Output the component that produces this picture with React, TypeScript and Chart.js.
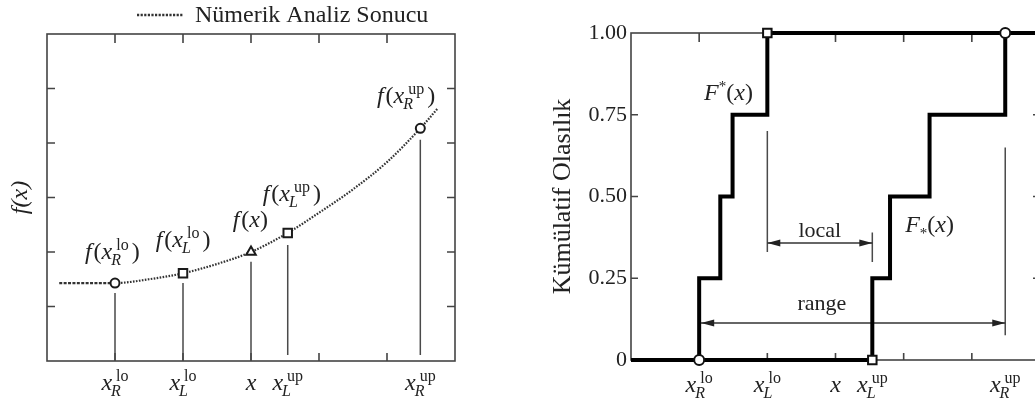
import React, { useEffect, useRef } from 'react';
import { Chart, registerables } from 'chart.js';

Chart.register(...registerables);

const SERIF = '"Liberation Serif", "Times New Roman", serif';
const INK = '#222';

// ---------- Left panel: numerical analysis result ----------
const curveX = [0.18, 0.5, 1, 1.5, 2, 2.5, 3, 3.54, 4, 4.5, 5, 5.49, 5.75];
const curveY = [1.43, 1.43, 1.43, 1.5, 1.61, 1.78, 2.0, 2.35, 2.72, 3.15, 3.65, 4.27, 4.64];
const pointX = [1, 2, 3, 3.54, 5.49];
const pointY = [1.43, 1.61, 2.0, 2.35, 4.27];
const pointShapes = ['circle', 'rect', 'triangle', 'rect', 'circle'];
const dropTop = [1.25, 1.43, 1.82, 2.13, 4.06];
const dropBottom = [0, 0, 0, 0.11, 0.11];
const tickSub = ['R', 'L', '', 'L', 'R'];
const tickSup = ['lo', 'lo', '', 'up', 'up'];
const fLabelX = [0.96, 2.0, 2.99, 3.6, 5.28];
const fLabelY = [1.87, 2.09, 2.46, 2.94, 4.73];
const leftTicks = [1, 2, 3, 4, 5];
const legendLabel = 'Nümerik Analiz Sonucu';
const leftYTitle = 'f(x)';

// ---------- Right panel: cumulative probability ----------
const upperX = [0, 1, 1.31, 1.49, 2, 6];
const lowerX = [0, 3.54, 3.8, 4.38, 5.49, 6];
const stepY = [0, 0.25, 0.5, 0.75, 1, 1];
const probLabels = ['0', '0.25', '0.50', '0.75', '1.00'];
const rightXTicks = [1, 2, 3, 4, 5];
const rightYTicks = [0.25, 0.5, 0.75];
const endX = [1, 3.54, 2, 5.49];
const endY = [0, 0, 1, 1];
const endShapes = ['circle', 'rect', 'rect', 'circle'];
const localX = [2, 3.54];
const localY = 0.358;
const localBarTop = [0.7, 0.39];
const localBarBottom = [0.33, 0.3];
const rangeX = [1, 5.49];
const rangeY = 0.113;
const rangeBarTop = 0.65;
const rangeBarBottom = 0.076;
const textLabels = ['local', 'range'];
const textLabelX = [2.77, 2.8];
const textLabelY = [0.376, 0.153];
const fStarX = [1.43, 4.38];
const fStarY = [0.795, 0.391];
const rightYTitle = 'Kümülatif Olasılık';

type Piece = { t: string; it?: boolean; s: number; dy?: number; dx?: number; adv?: number };

const fnt = (s: number, it?: boolean) => `${it ? 'italic ' : ''}${s}px ${SERIF}`;

function measure(ctx: CanvasRenderingContext2D, p: Piece) {
  ctx.font = fnt(p.s, p.it);
  return ctx.measureText(p.t).width;
}

function drawPieces(ctx: CanvasRenderingContext2D, pieces: Piece[], cx: number, by: number) {
  const adv = pieces.map((p) => (p.adv !== undefined ? p.adv : measure(ctx, p)));
  const total = adv.reduce((a, b) => a + b, 0);
  let x = cx - total / 2;
  ctx.save();
  ctx.fillStyle = INK;
  ctx.textAlign = 'left';
  ctx.textBaseline = 'alphabetic';
  pieces.forEach((p, i) => {
    ctx.font = fnt(p.s, p.it);
    ctx.fillText(p.t, x + (p.dx || 0), by + (p.dy || 0));
    x += adv[i];
  });
  ctx.restore();
}

function xSymbol(ctx: CanvasRenderingContext2D, sub: string, sup: string, wrapF: boolean): Piece[] {
  const out: Piece[] = [];
  const scripted = !!(sub || sup);
  if (wrapF) {
    out.push({ t: 'f', it: true, s: 24, adv: measure(ctx, { t: 'f', it: true, s: 24 }) + 2 });
    out.push({ t: '(', s: 24 });
  }
  out.push({ t: 'x', it: true, s: 24 });
  if (scripted) {
    const subP: Piece = { t: sub, it: true, s: 16, dy: 6, dx: -1 };
    const supP: Piece = { t: sup, s: 16, dy: -9, dx: 4 };
    const w = Math.max(sub ? measure(ctx, subP) - 1 : 0, sup ? measure(ctx, supP) + 4 : 0);
    out.push({ ...subP, adv: 0 });
    out.push({ ...supP, adv: w });
  }
  if (wrapF) {
    const gap = scripted ? 3 : 0;
    out.push({ t: ')', s: 24, dx: gap, adv: measure(ctx, { t: ')', s: 24 }) + gap });
  }
  return out;
}

function drawArrowHead(ctx: CanvasRenderingContext2D, tipX: number, y: number, dir: number) {
  ctx.beginPath();
  ctx.moveTo(tipX, y);
  ctx.lineTo(tipX - dir * 13, y - 3.5);
  ctx.lineTo(tipX - dir * 13, y + 3.5);
  ctx.closePath();
  ctx.fill();
}

const leftDecor = {
  id: 'leftDecor',
  beforeDatasetsDraw(chart: any) {
    const { ctx, chartArea: a, scales } = chart;
    const x = scales.x;
    const y = scales.y;
    ctx.save();
    ctx.strokeStyle = '#444';
    ctx.lineWidth = 1.6;
    ctx.strokeRect(a.left, a.top, a.right - a.left, a.bottom - a.top);
    ctx.beginPath();
    for (const v of leftTicks) {
      const px = x.getPixelForValue(v);
      ctx.moveTo(px, a.top);
      ctx.lineTo(px, a.top + 9);
      ctx.moveTo(px, a.bottom);
      ctx.lineTo(px, a.bottom - 8);
      const py = y.getPixelForValue(v);
      ctx.moveTo(a.left, py);
      ctx.lineTo(a.left + 8, py);
      ctx.moveTo(a.right, py);
      ctx.lineTo(a.right - 8, py);
    }
    ctx.stroke();
    ctx.restore();
  },
  afterDatasetsDraw(chart: any) {
    const { ctx, chartArea: a, scales } = chart;
    const x = scales.x;
    const y = scales.y;
    pointX.forEach((_, i) => {
      drawPieces(ctx, xSymbol(ctx, tickSub[i], tickSup[i], true), x.getPixelForValue(fLabelX[i]), y.getPixelForValue(fLabelY[i]));
    });
    pointX.forEach((v, i) => {
      drawPieces(ctx, xSymbol(ctx, tickSub[i], tickSup[i], false), x.getPixelForValue(v), a.bottom + 29);
    });
    // legend
    ctx.save();
    ctx.strokeStyle = '#333';
    ctx.lineWidth = 2.6;
    ctx.setLineDash([2.2, 1.4]);
    ctx.beginPath();
    ctx.moveTo(137, 15);
    ctx.lineTo(183, 15);
    ctx.stroke();
    ctx.setLineDash([]);
    ctx.fillStyle = INK;
    ctx.font = fnt(24);
    ctx.textAlign = 'left';
    ctx.textBaseline = 'alphabetic';
    ctx.fillText(legendLabel, 195, 22);
    ctx.restore();
  },
};

const rightDecor = {
  id: 'rightDecor',
  beforeDatasetsDraw(chart: any) {
    const { ctx, chartArea: a, scales } = chart;
    const x = scales.x;
    const y = scales.y;
    ctx.save();
    ctx.strokeStyle = '#444';
    ctx.lineWidth = 1.6;
    ctx.strokeRect(a.left, a.top, a.right - a.left, a.bottom - a.top);
    ctx.beginPath();
    for (const v of rightXTicks) {
      const px = x.getPixelForValue(v);
      ctx.moveTo(px, a.top);
      ctx.lineTo(px, a.top + 9);
      ctx.moveTo(px, a.bottom);
      ctx.lineTo(px, a.bottom - 7);
    }
    for (const v of rightYTicks) {
      const py = y.getPixelForValue(v);
      ctx.moveTo(a.left, py);
      ctx.lineTo(a.left + 7, py);
      ctx.moveTo(a.right, py);
      ctx.lineTo(a.right - 7, py);
    }
    ctx.stroke();
    ctx.restore();
  },
  afterDatasetsDraw(chart: any) {
    const { ctx, chartArea: a, scales } = chart;
    const x = scales.x;
    const y = scales.y;
    ctx.save();
    ctx.fillStyle = '#222';
    drawArrowHead(ctx, x.getPixelForValue(localX[0]), y.getPixelForValue(localY), -1);
    drawArrowHead(ctx, x.getPixelForValue(localX[1]), y.getPixelForValue(localY), 1);
    drawArrowHead(ctx, x.getPixelForValue(rangeX[0]) + 2, y.getPixelForValue(rangeY), -1);
    drawArrowHead(ctx, x.getPixelForValue(rangeX[1]), y.getPixelForValue(rangeY), 1);
    ctx.restore();
    textLabels.forEach((t, i) => {
      drawPieces(ctx, [{ t, s: 22 }], x.getPixelForValue(textLabelX[i]), y.getPixelForValue(textLabelY[i]));
    });
    const star = (dy: number): Piece[] => [
      { t: 'F', it: true, s: 24 },
      { t: '*', s: 15, dy, dx: 0 },
      { t: '(', s: 24 },
      { t: 'x', it: true, s: 24 },
      { t: ')', s: 24 },
    ];
    drawPieces(ctx, star(-9), x.getPixelForValue(fStarX[0]), y.getPixelForValue(fStarY[0]));
    drawPieces(ctx, star(6), x.getPixelForValue(fStarX[1]), y.getPixelForValue(fStarY[1]));
    pointX.forEach((v, i) => {
      drawPieces(ctx, xSymbol(ctx, tickSub[i], tickSup[i], false), x.getPixelForValue(v), a.bottom + 32);
    });
  },
};

const xy = (xs: number[], ys: number[]) => xs.map((v, i) => ({ x: v, y: ys[i] }));

const thin = (data: { x: number; y: number }[], color = '#4a4a4a') => ({
  data,
  showLine: true,
  borderColor: color,
  borderWidth: 1.5,
  pointRadius: 0,
  clip: false as const,
});

export default function App() {
  const leftRef = useRef<HTMLCanvasElement>(null);
  const rightRef = useRef<HTMLCanvasElement>(null);

  useEffect(() => {
    const left = new Chart(leftRef.current!, {
      type: 'scatter',
      data: {
        datasets: [
          {
            data: xy(pointX, pointY),
            pointStyle: pointShapes as any,
            pointRadius: [4.5, 6, 5.5, 6, 4.5],
            backgroundColor: '#fff',
            borderColor: '#1a1a1a',
            borderWidth: 2,
            showLine: false,
            clip: false,
          } as any,
          {
            data: xy(curveX, curveY),
            showLine: true,
            borderColor: '#333',
            borderWidth: 2.2,
            borderDash: [1.6, 1.4],
            segment: {
              borderDash: (c: any) => (c.p0DataIndex < 2 ? [3, 1.4] : [1.6, 1.4]),
            },
            cubicInterpolationMode: 'monotone',
            pointRadius: 0,
            clip: false,
          } as any,
          ...pointX.map((v, i) => thin([{ x: v, y: dropTop[i] }, { x: v, y: dropBottom[i] }])),
        ],
      },
      options: {
        responsive: false,
        animation: false,
        events: [],
        layout: { padding: { left: 0, top: 34, right: 65, bottom: 0 } },
        plugins: { legend: { display: false }, tooltip: { enabled: false } },
        scales: {
          x: {
            type: 'linear',
            min: 0,
            max: 6,
            ticks: { display: false },
            grid: { display: false, drawTicks: false },
            border: { display: false },
            afterFit: (s: any) => {
              s.height = 42;
            },
          },
          y: {
            type: 'linear',
            min: 0,
            max: 6,
            ticks: { display: false },
            grid: { display: false, drawTicks: false },
            border: { display: false },
            title: {
              display: true,
              text: leftYTitle,
              color: INK,
              font: { family: SERIF, size: 24, style: 'italic' },
              padding: { top: 6, bottom: 0 },
            },
            afterFit: (s: any) => {
              s.width = 47;
            },
          },
        },
      } as any,
      plugins: [leftDecor],
    });

    const right = new Chart(rightRef.current!, {
      type: 'scatter',
      data: {
        datasets: [
          {
            data: xy(endX, endY),
            pointStyle: endShapes as any,
            pointRadius: [5, 6, 6, 5],
            backgroundColor: '#fff',
            borderColor: '#111',
            borderWidth: 2,
            showLine: false,
            clip: false,
          } as any,
          {
            data: xy(upperX, stepY),
            showLine: true,
            stepped: 'before',
            borderColor: '#000',
            borderWidth: 4,
            borderJoinStyle: 'miter',
            pointRadius: 0,
            clip: false,
          } as any,
          {
            data: xy(lowerX, stepY),
            showLine: true,
            stepped: 'before',
            borderColor: '#000',
            borderWidth: 4,
            borderJoinStyle: 'miter',
            pointRadius: 0,
            clip: false,
          } as any,
          thin([{ x: localX[0], y: localY }, { x: localX[1], y: localY }], '#333'),
          thin([{ x: rangeX[0], y: rangeY }, { x: rangeX[1], y: rangeY }], '#333'),
          ...localX.map((v, i) => thin([{ x: v, y: localBarTop[i] }, { x: v, y: localBarBottom[i] }])),
          thin([{ x: rangeX[1], y: rangeBarTop }, { x: rangeX[1], y: rangeBarBottom }]),
        ],
      },
      options: {
        responsive: false,
        animation: false,
        events: [],
        layout: { padding: { left: 0, top: 33, right: 40, bottom: 0 } },
        plugins: { legend: { display: false }, tooltip: { enabled: false } },
        scales: {
          x: {
            type: 'linear',
            min: 0,
            max: 6,
            ticks: { display: false },
            grid: { display: false, drawTicks: false },
            border: { display: false },
            afterFit: (s: any) => {
              s.height = 43;
            },
          },
          y: {
            type: 'linear',
            min: 0,
            max: 1,
            ticks: {
              stepSize: 0.25,
              padding: 4,
              color: INK,
              font: { family: SERIF, size: 22 },
              callback: (_v: any, i: number) => probLabels[i],
            },
            grid: { display: false, drawTicks: false },
            border: { display: false },
            title: {
              display: true,
              text: rightYTitle,
              color: INK,
              font: { family: SERIF, size: 26 },
              padding: { top: 28, bottom: 0 },
            },
            afterFit: (s: any) => {
              s.width = 111;
            },
          },
        },
      } as any,
      plugins: [rightDecor],
    });

    return () => {
      left.destroy();
      right.destroy();
    };
  }, []);

  return (
    <div
      style={{
        position: 'absolute',
        left: 0,
        top: 0,
        width: 1035,
        height: 403,
        overflow: 'hidden',
        background: '#fff',
      }}
    >
      <div style={{ position: 'absolute', left: 0, top: 0, width: 520, height: 403 }}>
        <canvas ref={leftRef} width={520} height={403} />
      </div>
      <div style={{ position: 'absolute', left: 520, top: 0, width: 560, height: 403 }}>
        <canvas ref={rightRef} width={560} height={403} />
      </div>
    </div>
  );
}
